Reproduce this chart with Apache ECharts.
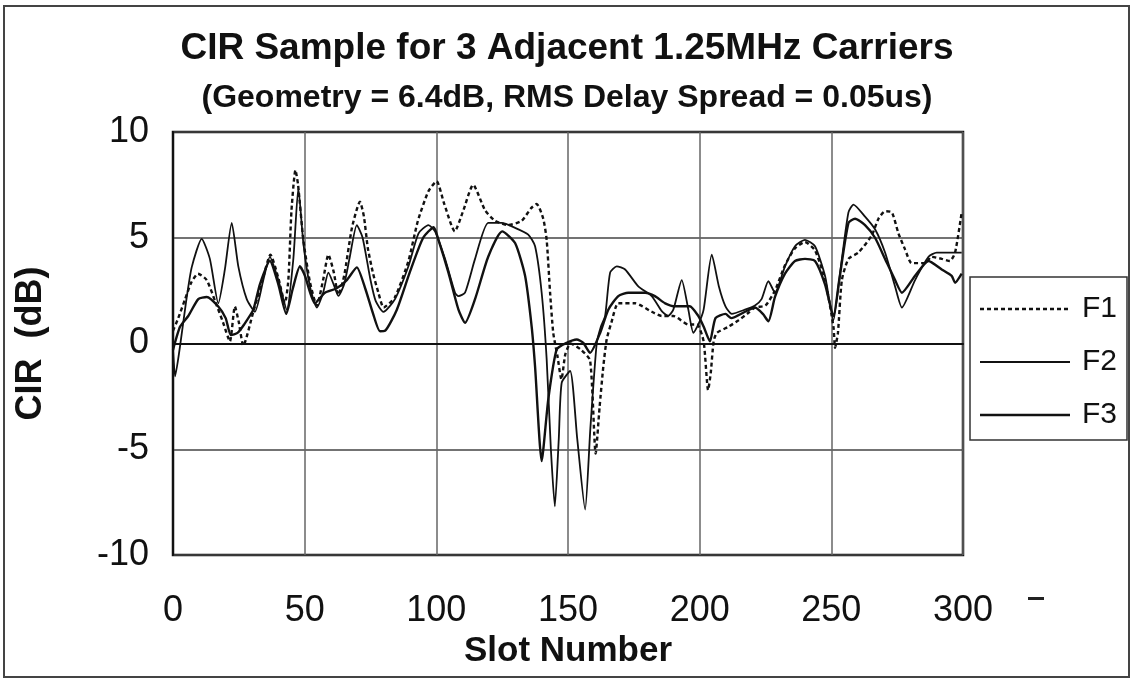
<!DOCTYPE html>
<html><head><meta charset="utf-8">
<script src="https://cdn.jsdelivr.net/npm/echarts@6/dist/echarts.min.js"></script>
<style>html,body{margin:0;padding:0;background:#fff}#c{width:1134px;height:681px}</style>
</head><body><div id="c"></div>
<script>
const titleText = 'CIR Sample for 3 Adjacent 1.25MHz Carriers';
const subtitleText = '(Geometry = 6.4dB, RMS Delay Spread = 0.05us)';
const xName = 'Slot Number';
const yName = 'CIR  (dB)';
const seriesNames = ['F1', 'F2', 'F3'];
const xTicks = [0, 50, 100, 150, 200, 250, 300];
const yTicks = [-10, -5, 0, 5, 10];

const f1Data = [[0,0.6],[2,1.2],[4.6,2.1],[7,2.9],[9.5,3.3],[12.8,3.0],[16,2.0],[19,1.0],[21.6,0.1],[23.5,1.75],[25,1.0],[26.7,-0.1],[30.5,1.5],[34,3.0],[37,4.2],[40,3.1],[42.5,1.9],[43.8,3.0],[45,6.3],[46.5,8.2],[47.5,7.5],[49.5,4.9],[52,2.9],[54.6,1.8],[57,3.0],[59,4.2],[61,3.4],[62.8,2.3],[65,3.2],[68,5.5],[71,6.7],[72.5,6.0],[74,4.5],[76,3.3],[78,2.4],[80,1.7],[84.3,2.2],[89.4,3.9],[93,5.8],[97,7.2],[100.1,7.67],[103,6.6],[107,5.3],[110,6.2],[114,7.5],[118.5,6.3],[122.3,5.8],[127.3,5.6],[132.4,5.8],[136,6.4],[138.1,6.6],[140.6,5.9],[141.9,4.9],[143.2,2.4],[144.4,0.5],[146,-0.6],[147.5,-1.7],[149,-0.5],[151,0.0],[155,-0.3],[158.4,-0.8],[160.5,-5.2],[162,-3.0],[163.4,-1.1],[164.7,0.2],[166.5,1.0],[169.1,1.9],[175.5,1.9],[181.8,1.5],[185.6,1.3],[190,1.3],[195.7,0.9],[199,0.9],[201.5,0.1],[203.2,-2.2],[204.2,-1.4],[205.3,0.1],[206.5,0.5],[211,0.8],[214.8,1.1],[218,1.4],[221,1.7],[225,1.8],[228.6,2.5],[232.4,3.7],[236.2,4.5],[240,4.8],[243.8,4.4],[247.6,3.0],[250.8,0.8],[251.4,-0.2],[252.5,0.5],[254,3.0],[256.5,4.0],[260.3,4.3],[265.3,5.1],[267.9,5.9],[270.4,6.25],[273,6.2],[275.5,5.2],[278,4.45],[280.5,3.8],[285.6,3.8],[288,4.1],[292,4.0],[295,3.9],[297,4.3],[299.5,6.2]];

const f2Data = [[0,-0.3],[0.8,-1.55],[2.7,-0.1],[5,2.0],[7.1,3.6],[10.9,4.95],[14,4.0],[17.2,1.9],[19.7,3.5],[22.3,5.7],[24.8,3.65],[28,2.1],[31.1,1.5],[34.3,3.0],[36.8,4.1],[40,3.0],[43.2,1.6],[45.7,4.0],[47.6,7.35],[49.5,4.75],[52,2.7],[54.6,1.7],[57,2.4],[59,3.35],[61,2.8],[62.8,2.25],[65,2.8],[67,4.0],[69.8,5.6],[72,5.0],[75,3.0],[77,2.0],[79.9,1.5],[84.3,2.1],[89.4,3.65],[93.2,5.2],[97,5.6],[99.5,5.3],[103.3,4.0],[107.1,2.4],[108.4,2.24],[110.9,2.4],[114.7,4.0],[119.7,5.7],[124.8,5.7],[129.9,5.47],[134.9,5.15],[137.5,4.6],[140,2.4],[141.9,-0.75],[143.5,-5.0],[145,-7.7],[146.5,-4.5],[147.6,-1.86],[150.8,-1.3],[153.5,-4.5],[156.5,-7.85],[158.5,-4.0],[160.9,0.0],[162.5,0.8],[164.1,1.3],[166,3.35],[168.5,3.65],[171.7,3.5],[176.7,2.7],[181.8,2.24],[185.6,1.53],[188,1.3],[190,1.6],[193.2,3.0],[195.7,1.6],[197.6,0.5],[199.5,0.9],[201.5,1.6],[204.6,4.2],[207.3,2.7],[209.8,1.76],[212.2,1.4],[217.2,1.6],[221,1.8],[223.5,2.1],[226.1,2.95],[228.6,2.4],[232.4,3.65],[236.2,4.6],[240,4.9],[243.8,4.6],[247.6,3.2],[250.8,1.1],[252.5,2.5],[254,4.0],[256.5,6.2],[258.4,6.57],[262.8,6.0],[266.6,5.4],[270.4,4.3],[274.2,2.7],[276.8,1.7],[281.8,3.0],[286.9,4.1],[290,4.3],[295,4.3],[299.5,4.3]];

const f3Data = [[0,-0.3],[2.7,0.8],[5.8,1.3],[9.6,2.1],[12.8,2.2],[17.2,1.75],[20,1.2],[22,0.4],[24.5,0.5],[27,0.9],[30.5,1.6],[33,2.8],[36.8,3.9],[40,2.8],[43,1.4],[45.5,2.6],[48.2,3.65],[50.1,3.2],[53.9,1.9],[57.7,2.4],[62,2.6],[66,3.0],[69.8,3.6],[73,2.6],[76,1.4],[78.6,0.58],[80.5,0.6],[85,1.6],[90,3.4],[95,5.0],[99,5.5],[100.8,4.9],[104.6,3.35],[108.4,1.6],[110.9,0.98],[114.7,2.1],[119.7,4.1],[125,5.3],[129.9,4.75],[133.7,3.2],[136.2,0.8],[137.5,-1.1],[140,-5.56],[142.5,-2.65],[145.7,-0.28],[149.5,0.03],[153.3,0.19],[155.8,0.03],[158.4,-0.44],[162.2,0.5],[165.3,1.6],[169.1,2.24],[172.9,2.4],[179.3,2.4],[183,2.24],[186.9,1.9],[190.7,1.76],[196.2,1.76],[199.5,1.3],[201.5,0.8],[203.9,0.1],[206,1.2],[209.8,1.4],[212,1.2],[217.2,1.5],[221,1.7],[224,1.4],[226.1,1.05],[228.6,2.2],[232.4,3.3],[236.2,3.9],[240,4.0],[243.8,3.9],[247.6,2.8],[250.8,1.3],[253,3.0],[256.5,5.7],[259,5.9],[262.8,5.6],[266.6,5.0],[270.4,4.0],[274.2,3.0],[276.8,2.4],[281.8,3.2],[286.9,3.9],[291.9,3.5],[295.7,3.2],[297,2.87],[299.5,3.3]];

const chart = echarts.init(document.getElementById('c'), null, {renderer: 'canvas'});
const sans = '"Liberation Sans", Arial, sans-serif';
const ink = '#111';
const dash = [4, 3];
const lineStyles = [
  {color: ink, width: 2.4, type: dash},
  {color: ink, width: 1.8},
  {color: ink, width: 2.4}
];

// manual legend (line sample + label per series)
const legendBox = {x: 970, y: 277, w: 157, h: 163};
const legendRowY = [309, 362, 415];
const legendGraphics = [
  {type: 'rect', shape: {x: legendBox.x, y: legendBox.y, width: legendBox.w, height: legendBox.h}, silent: true,
   style: {fill: '#fff', stroke: '#333', lineWidth: 1.5}}
];
seriesNames.forEach((n, i) => {
  legendGraphics.push({type: 'line', silent: true,
    shape: {x1: 980, y1: legendRowY[i], x2: 1070, y2: legendRowY[i]},
    style: {stroke: ink, lineWidth: lineStyles[i].width, lineDash: lineStyles[i].type ? dash : null}});
  legendGraphics.push({type: 'text', silent: true, x: 1082, y: legendRowY[i],
    style: {text: n, font: '30px ' + sans, fill: ink, textVerticalAlign: 'middle', verticalAlign: 'middle'}});
});

chart.setOption({
  backgroundColor: '#fff',
  animation: false,
  title: [
    {text: titleText, left: 'center', top: 25,
     textStyle: {fontFamily: sans, fontSize: 37, fontWeight: 'bold', color: ink}},
    {text: subtitleText, left: 'center', top: 77,
     textStyle: {fontFamily: sans, fontSize: 32, fontWeight: 'bold', color: ink}}
  ],
  grid: {left: 173, top: 132, right: 171, bottom: 126, show: true, borderColor: ink, borderWidth: 2.5, containLabel: false},
  xAxis: {
    type: 'value', min: xTicks[0], max: xTicks[xTicks.length - 1], interval: 50,
    name: xName, nameLocation: 'middle', nameGap: 76,
    nameTextStyle: {fontFamily: sans, fontSize: 35, fontWeight: 'bold', color: ink},
    axisLine: {show: true, lineStyle: {color: ink, width: 2}},
    axisTick: {show: false},
    axisLabel: {fontFamily: sans, fontSize: 36, color: ink, margin: 38},
    splitLine: {show: true, lineStyle: {color: '#666', width: 1.5}}
  },
  yAxis: {
    type: 'value', min: yTicks[0], max: yTicks[yTicks.length - 1], interval: 5,
    name: yName, nameLocation: 'middle', nameGap: 124,
    nameTextStyle: {fontFamily: sans, fontSize: 36, fontWeight: 'bold', color: ink},
    axisLine: {show: true, lineStyle: {color: ink, width: 2}},
    axisTick: {show: false},
    axisLabel: {fontFamily: sans, fontSize: 36, color: ink, margin: 24},
    splitLine: {show: true, lineStyle: {color: '#444', width: 1.5}}
  },
  series: [
    {name: seriesNames[0], type: 'line', data: f1Data, showSymbol: false, symbol: 'none', smooth: 0.2,
     lineStyle: lineStyles[0], itemStyle: {color: ink}, z: 3},
    {name: seriesNames[1], type: 'line', data: f2Data, showSymbol: false, symbol: 'none', smooth: 0.2,
     lineStyle: lineStyles[1], itemStyle: {color: ink}, z: 2},
    {name: seriesNames[2], type: 'line', data: f3Data, showSymbol: false, symbol: 'none', smooth: 0.2,
     lineStyle: lineStyles[2], itemStyle: {color: ink}, z: 2}
  ],
  graphic: [
    {type: 'rect', shape: {x: 4, y: 6, width: 1125, height: 671}, silent: true,
     style: {fill: 'none', stroke: '#444', lineWidth: 2}},
    {type: 'rect', shape: {x: 1028, y: 597, width: 16, height: 3}, silent: true,
     style: {fill: '#222'}}
  ].concat(legendGraphics)
});
</script></body></html>
